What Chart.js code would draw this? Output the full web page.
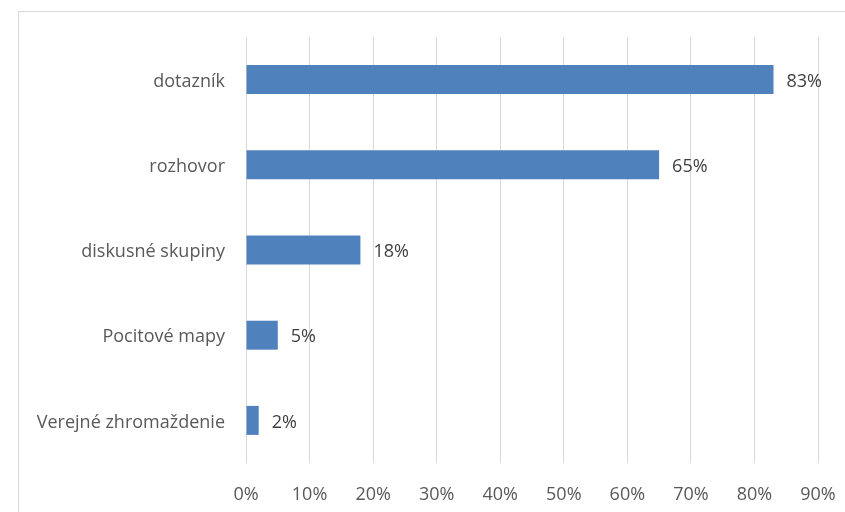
<!DOCTYPE html>
<html>
<head>
<meta charset="utf-8">
<script src="https://cdn.jsdelivr.net/npm/chart.js@4"></script>
<style>
  html, body { margin: 0; padding: 0; background: #fff; }
  #wrap { width: 845px; height: 512px; position: relative; }
</style>
</head>
<body>
<div id="wrap"><canvas id="chart" width="845" height="512"></canvas></div>
<script>
const categories = ["dotazník", "rozhovor", "diskusné skupiny", "Pocitové mapy", "Verejné zhromaždenie"];
const values = [83, 65, 18, 5, 2];
const tickValues = [0, 10, 20, 30, 40, 50, 60, 70, 80, 90];

const fontFamily = "'Open Sans', Lato, sans-serif";
const fontSize = 18;

// frame around the chart, like the office chart border
const frame = {
  id: "frame",
  beforeDraw(chart) {
    const ctx = chart.ctx;
    ctx.save();
    ctx.fillStyle = "#fff";
    ctx.fillRect(0, 0, chart.width, chart.height);
    ctx.strokeStyle = "#d9d9d9";
    ctx.lineWidth = 1;
    ctx.strokeRect(18.5, 11.5, chart.width, chart.height);
    ctx.restore();
  }
};

// value labels to the right of each bar
const barLabels = {
  id: "barLabels",
  afterDatasetsDraw(chart) {
    const ctx = chart.ctx;
    const meta = chart.getDatasetMeta(0);
    ctx.save();
    ctx.font = fontSize + "px " + fontFamily;
    ctx.fillStyle = "#404040";
    ctx.textAlign = "left";
    ctx.textBaseline = "middle";
    meta.data.forEach((bar, i) => {
      ctx.fillText(values[i] + "%", bar.x + 13, bar.y + 2);
    });
    ctx.restore();
  }
};

new Chart(document.getElementById("chart").getContext("2d"), {
  type: "bar",
  data: {
    labels: categories,
    datasets: [{
      data: values,
      backgroundColor: "#4f81bd",
      categoryPercentage: 1,
      barPercentage: 0.34
    }]
  },
  options: {
    indexAxis: "y",
    responsive: false,
    animation: false,
    layout: { padding: { top: 37, right: 27, left: 0, bottom: 0 } },
    plugins: { legend: { display: false }, tooltip: { enabled: false } },
    scales: {
      x: {
        min: 0,
        max: 90,
        afterBuildTicks(axis) {
          axis.ticks = tickValues.map(v => ({ value: v }));
        },
        afterFit(axis) {
          axis.height = 49;
          axis.paddingLeft = 0;
          axis.paddingRight = 0;
        },
        grid: { color: "#d9d9d9", drawTicks: false },
        border: { display: false },
        ticks: {
          padding: 21,
          color: "#595959",
          font: { family: fontFamily, size: fontSize },
          callback: v => v + "%"
        }
      },
      y: {
        afterFit(axis) { axis.width = 246; },
        grid: { display: false, drawTicks: false },
        border: { display: false },
        ticks: {
          padding: 21,
          labelOffset: 2,
          color: "#595959",
          font: { family: fontFamily, size: fontSize }
        }
      }
    }
  },
  plugins: [frame, barLabels]
});
</script>
</body>
</html>
